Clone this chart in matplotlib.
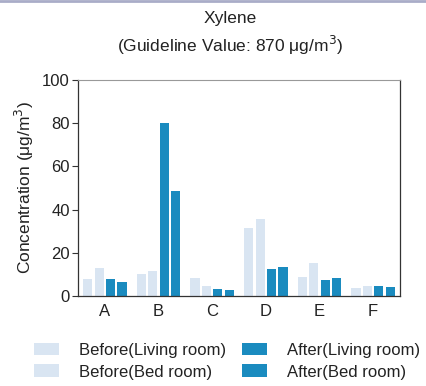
import matplotlib
matplotlib.use("Agg")
import matplotlib.pyplot as plt
import numpy as np
from matplotlib.patches import Patch

plt.rcParams['font.family'] = ['Liberation Sans', 'DejaVu Sans']

categories = ["A", "B", "C", "D", "E", "F"]
before_living = [7.8, 10.1, 8.2, 31.5, 8.7, 3.9]
before_bed = [12.9, 11.6, 4.5, 35.7, 15.2, 4.7]
after_living = [7.8, 80.3, 3.1, 12.4, 7.3, 4.8]
after_bed = [6.7, 48.5, 2.9, 13.2, 8.2, 4.2]
series_labels = ["Before(Living room)", "Before(Bed room)", "After(Living room)", "After(Bed room)"]

light = "#d9e5f2"
dark = "#1a8bbf"

fig = plt.figure(figsize=(4.26, 3.86), dpi=100)
ax = fig.add_axes([78/426, 1-296/386, (400-78)/426, (296-80)/386])

x = np.arange(len(categories))
w = 0.17
offs = [-0.32, -0.107, 0.107, 0.32]
data = [before_living, before_bed, after_living, after_bed]
colors = [light, light, dark, dark]
for d, o, c in zip(data, offs, colors):
    ax.bar(x + o, d, width=w, color=c, linewidth=0)

ax.set_xlim(-0.5, 5.5)
ax.set_ylim(0, 100)
ax.set_yticks([0, 20, 40, 60, 80, 100])
ax.set_xticks(x)
ax.set_xticklabels(categories, fontsize=12)
ax.tick_params(axis='x', length=0, pad=6, colors='#222222')
ax.tick_params(axis='y', labelsize=12, length=4, width=0.8, pad=2, colors='#333333', labelcolor='#222222')
for s in ['left', 'bottom', 'right']:
    ax.spines[s].set_color('#333333')
    ax.spines[s].set_linewidth(0.9)
ax.spines['top'].set_color('#999999')
ax.spines['top'].set_linewidth(0.8)
ax.set_ylabel("Concentration (μg/m$^3$)", fontsize=12.5, color='#222222', labelpad=4)

fig.text(230/426, 1-18/386, "Xylene", ha='center', va='center', fontsize=12.5, color='#222222')
fig.text(230/426, 1-45/386, "(Guideline Value: 870 μg/m$^3$)", ha='center', va='center', fontsize=12.5, color='#222222')

handles = [Patch(facecolor=c, edgecolor='none') for c in colors]
leg = fig.legend(handles, series_labels,
                 loc='center', bbox_to_anchor=(227/426, 1-361/386), ncol=2, frameon=False,
                 fontsize=12, handlelength=1.5, handleheight=0.8, columnspacing=1.0,
                 handletextpad=1.2, labelspacing=0.4)
for t in leg.get_texts():
    t.set_color('#222222')

fig.add_artist(plt.Line2D([0, 1], [0.998, 0.998], color='#a9acc8', linewidth=2, transform=fig.transFigure))

fig.savefig("out.png", dpi=100)
